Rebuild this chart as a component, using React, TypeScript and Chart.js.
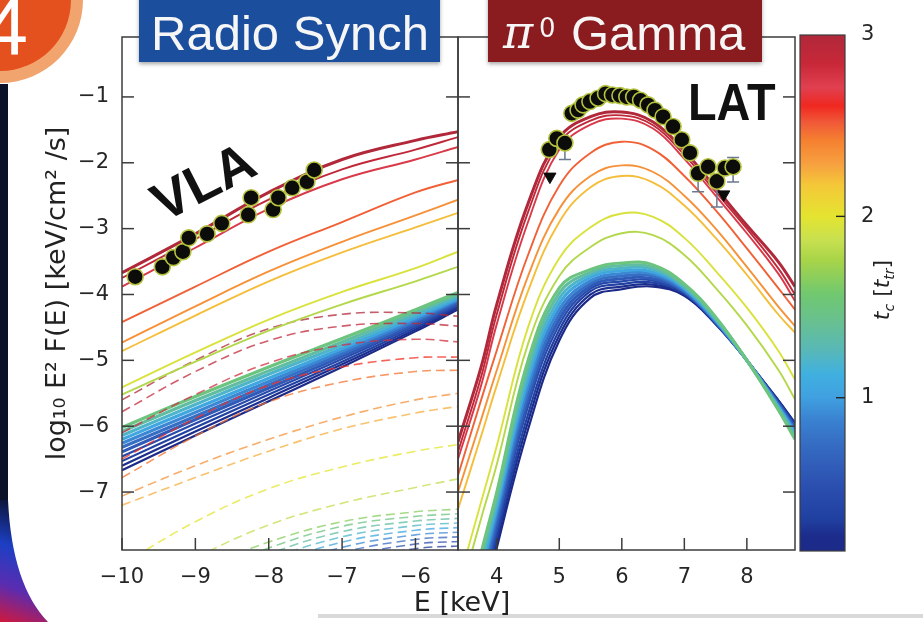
import React, { useEffect, useRef } from "react";
import { Chart, registerables } from "chart.js";

Chart.register(...registerables);
Chart.defaults.font.family = "'DejaVu Sans', sans-serif";

// ---------- axes ----------
const LOG_FLUX_MIN = -7.88;
const LOG_FLUX_MAX = -0.09;
const LOG_FLUX_TICKS = [-7, -6, -5, -4, -3, -2, -1];

const RADIO_E_MIN = -10;
const RADIO_E_MAX = -5.42;
const RADIO_E_TICKS = [-10, -9, -8, -7, -6];

const GAMMA_E_MIN = 3.38;
const GAMMA_E_MAX = 8.77;
const GAMMA_E_TICKS = [4, 5, 6, 7, 8];

const TC_MIN = 0.155;
const TC_MAX = 3;
const TC_TICKS = [1, 2, 3];

// colour scale for t_c [t_tr]
const TC_STOPS = [0.155, 0.24, 0.33, 0.52, 0.71, 0.87, 1.0, 1.13, 1.26, 1.42, 1.57, 1.76, 1.87, 2.0, 2.17, 2.29, 2.42, 2.52, 2.61, 2.71, 2.84, 3.0];
const TC_COLORS = ["#1c2a88", "#1c2c8c", "#2040a0", "#2c50b0", "#3468c0", "#3a80d0", "#40a0e0", "#40b0e0", "#58b8b8", "#68c090", "#70c870", "#a8d448", "#c8e050", "#e4e430", "#f4c838", "#f7a040", "#f58030", "#f05838", "#f02820", "#e04050", "#c82838", "#b0283a"];

// ---------- radio synchrotron panel ----------
const radioE = [-10, -9, -8, -7, -6, -5.42];

const radioSolidTc = [3.0, 2.9, 2.75, 2.5, 2.35, 2.2, 1.95, 1.8];
const radioSolid = [
  [-3.67, -3.08, -2.45, -1.95, -1.66, -1.53],
  [-3.75, -3.16, -2.56, -2.1, -1.8, -1.61],
  [-3.88, -3.29, -2.7, -2.25, -1.95, -1.76],
  [-4.42, -3.88, -3.35, -2.9, -2.45, -2.26],
  [-4.73, -4.18, -3.65, -3.2, -2.8, -2.56],
  [-4.86, -4.32, -3.8, -3.36, -2.98, -2.76],
  [-5.41, -4.88, -4.38, -3.96, -3.6, -3.35],
  [-5.52, -5.02, -4.55, -4.15, -3.8, -3.58],
];

const radioBandTc = [1.5, 1.35, 1.2, 1.05, 0.9, 0.75, 0.6, 0.45, 0.35, 0.25, 0.15];
const radioBand = [
  [-6.02, -5.55, -5.1, -4.67, -4.23, -3.97],
  [-6.08, -5.61, -5.16, -4.72, -4.27, -4.0],
  [-6.14, -5.67, -5.21, -4.77, -4.31, -4.03],
  [-6.2, -5.73, -5.27, -4.82, -4.35, -4.06],
  [-6.26, -5.79, -5.32, -4.86, -4.38, -4.08],
  [-6.32, -5.85, -5.37, -4.9, -4.41, -4.1],
  [-6.39, -5.9, -5.42, -4.94, -4.44, -4.13],
  [-6.46, -5.96, -5.47, -4.98, -4.47, -4.16],
  [-6.53, -6.02, -5.52, -5.02, -4.5, -4.18],
  [-6.6, -6.08, -5.57, -5.06, -4.53, -4.2],
  [-6.67, -6.14, -5.62, -5.1, -4.56, -4.23],
];

const radioDashedTc = [3.0, 2.9, 2.8, 2.6, 2.45, 2.35, 2.25, 2.0, 1.85, 1.65, 1.5, 1.35, 1.2, 1.05, 0.9, 0.7, 0.5, 0.3];
const radioDashed = [
  [-5.6, -5.0, -4.52, -4.3, -4.28, -4.33],
  [-5.78, -5.17, -4.7, -4.48, -4.44, -4.48],
  [-6.1, -5.52, -5.04, -4.77, -4.68, -4.72],
  [-6.5, -5.88, -5.38, -5.1, -4.96, -4.95],
  [-6.78, -6.15, -5.63, -5.33, -5.17, -5.15],
  [-7.06, -6.6, -6.2, -5.86, -5.6, -5.5],
  [-7.2, -6.78, -6.38, -6.04, -5.8, -5.7],
  [-8.1, -7.45, -6.95, -6.62, -6.38, -6.28],
  [-8.6, -8.0, -7.5, -7.17, -6.93, -6.8],
  [-8.7, -8.2, -7.76, -7.45, -7.3, -7.26],
  [-8.8, -8.3, -7.85, -7.52, -7.37, -7.33],
  [-8.9, -8.4, -7.94, -7.6, -7.44, -7.4],
  [-9.0, -8.5, -8.03, -7.68, -7.51, -7.47],
  [-9.1, -8.6, -8.12, -7.76, -7.58, -7.54],
  [-9.2, -8.7, -8.21, -7.84, -7.65, -7.61],
  [-9.3, -8.8, -8.3, -7.92, -7.72, -7.68],
  [-9.4, -8.9, -8.4, -8.0, -7.79, -7.75],
  [-9.5, -9.0, -8.5, -8.08, -7.86, -7.82],
];

// VLA measurements
const vlaE = [-9.82, -9.45, -9.3, -9.17, -9.09, -8.84, -8.64, -8.28, -8.24, -7.94, -7.87, -7.68, -7.48, -7.38];
const vlaF = [-3.73, -3.58, -3.44, -3.35, -3.14, -3.08, -2.92, -2.79, -2.53, -2.71, -2.53, -2.38, -2.29, -2.11];

// ---------- pi0 gamma-ray panel ----------
const gammaE = [3.38, 3.75, 4.0, 4.5, 5.0, 5.5, 6.0, 6.5, 7.0, 7.5, 8.0, 8.5, 8.77];

const gammaSolidTc = [3.0, 2.9, 2.75, 2.5, 2.35, 2.2, 1.95, 1.8];
const gammaSolid = [
  [-6.24, -5.1, -4.15, -2.62, -1.62, -1.3, -1.23, -1.38, -1.82, -2.38, -2.95, -3.5, -3.88],
  [-6.39, -5.25, -4.3, -2.75, -1.7, -1.36, -1.28, -1.43, -1.88, -2.44, -3.0, -3.6, -4.0],
  [-6.5, -5.38, -4.45, -2.9, -1.8, -1.42, -1.33, -1.48, -1.94, -2.5, -3.07, -3.68, -4.1],
  [-6.75, -5.6, -4.85, -3.4, -2.35, -1.85, -1.68, -1.8, -2.2, -2.72, -3.3, -3.9, -4.23],
  [-7.0, -5.9, -5.15, -3.72, -2.7, -2.2, -2.04, -2.14, -2.5, -3.0, -3.58, -4.18, -4.48],
  [-7.26, -6.15, -5.38, -3.95, -2.9, -2.37, -2.2, -2.3, -2.65, -3.14, -3.7, -4.3, -4.58],
  [-8.4, -7.15, -6.3, -4.5, -3.45, -2.98, -2.77, -2.82, -3.14, -3.64, -4.2, -4.85, -5.29],
  [-8.65, -7.4, -6.58, -4.75, -3.72, -3.28, -3.07, -3.1, -3.4, -3.9, -4.47, -5.14, -5.59],
];

const gammaBandTc = [1.5, 1.35, 1.2, 1.05, 0.9, 0.75, 0.6, 0.45, 0.35, 0.25, 0.15];
const gammaBand = [
  [-9.4, -7.92, -7.0, -5.0, -3.9, -3.62, -3.52, -3.55, -3.84, -4.34, -5.0, -5.75, -6.2],
  [-9.5, -8.0, -7.08, -5.1, -3.98, -3.66, -3.56, -3.59, -3.87, -4.36, -5.0, -5.73, -6.17],
  [-9.6, -8.1, -7.16, -5.2, -4.06, -3.7, -3.6, -3.62, -3.89, -4.37, -5.0, -5.71, -6.13],
  [-9.7, -8.2, -7.24, -5.3, -4.14, -3.74, -3.64, -3.66, -3.91, -4.39, -5.0, -5.7, -6.1],
  [-9.8, -8.3, -7.32, -5.4, -4.22, -3.79, -3.68, -3.69, -3.93, -4.4, -5.0, -5.68, -6.07],
  [-9.9, -8.4, -7.4, -5.5, -4.3, -3.83, -3.72, -3.72, -3.95, -4.41, -5.0, -5.67, -6.05],
  [-10.0, -8.5, -7.49, -5.6, -4.38, -3.87, -3.76, -3.76, -3.96, -4.42, -5.0, -5.65, -6.02],
  [-10.1, -8.6, -7.58, -5.7, -4.46, -3.91, -3.8, -3.79, -3.98, -4.43, -5.0, -5.64, -6.0],
  [-10.2, -8.7, -7.67, -5.82, -4.54, -3.95, -3.84, -3.82, -3.99, -4.44, -5.0, -5.62, -5.98],
  [-10.3, -8.8, -7.76, -5.93, -4.62, -4.0, -3.88, -3.85, -4.01, -4.44, -5.0, -5.61, -5.96],
  [-10.4, -8.9, -7.85, -6.05, -4.7, -4.05, -3.92, -3.88, -4.02, -4.45, -5.0, -5.6, -5.95],
];

// Fermi-LAT measurements, lower / upper error-bar ends (null: none drawn)
const latE = [4.84, 4.96, 5.09, 5.2, 5.3, 5.38, 5.49, 5.62, 5.74, 5.85, 5.97, 6.08, 6.19, 6.3, 6.42, 6.53, 6.66, 6.82, 6.96, 7.09, 7.22, 7.38, 7.52, 7.65, 7.78];
const latF = [-1.8, -1.63, -1.7, -1.25, -1.2, -1.12, -1.07, -1.02, -0.95, -0.97, -0.98, -1.0, -1.0, -1.05, -1.12, -1.2, -1.3, -1.45, -1.65, -1.85, -2.16, -2.06, -2.28, -2.08, -2.06];
const latLo = [null, null, -1.95, null, null, null, null, null, null, null, null, null, null, null, null, null, null, null, null, null, -2.44, null, -2.67, null, -2.29];
const latHi = [null, null, null, null, null, null, null, null, null, null, null, null, null, null, null, null, null, null, null, null, null, null, null, null, -1.92];

// LAT upper limits
const ulE = [4.85, 7.63];
const ulF = [-2.21, -2.48];

// ---------- helpers ----------
function hexRgb(h: string) {
  const n = parseInt(h.slice(1), 16);
  return [(n >> 16) & 255, (n >> 8) & 255, n & 255];
}
function tcColor(t: number, alpha = 1) {
  let i = 0;
  while (i < TC_STOPS.length - 2 && t > TC_STOPS[i + 1]) i++;
  const f = Math.min(1, Math.max(0, (t - TC_STOPS[i]) / (TC_STOPS[i + 1] - TC_STOPS[i])));
  const a = hexRgb(TC_COLORS[i]);
  const b = hexRgb(TC_COLORS[i + 1]);
  const c = a.map((v, k) => Math.round(v + (b[k] - v) * f));
  return `rgba(${c[0]},${c[1]},${c[2]},${alpha})`;
}
const minus = (v: number) => String(v).replace("-", "\u2212");
const pts = (xs: number[], ys: (number | null)[]) => xs.map((x, i) => ({ x, y: ys[i] as number }));

function curve(label: string, xs: number[], ys: number[], axis: string, color: string, width: number, dash: number[] = []) {
  return {
    type: "line" as const,
    label,
    xAxisID: axis,
    yAxisID: "y",
    data: pts(xs, ys),
    borderColor: color,
    borderWidth: width,
    borderDash: dash,
    pointRadius: 0,
    pointHoverRadius: 0,
    tension: 0.4,
    fill: false,
    order: 1,
  };
}

function buildDatasets() {
  const sets: any[] = [];
  sets.push({
    type: "line", label: "VLA", xAxisID: "xL", yAxisID: "y", data: pts(vlaE, vlaF), showLine: false,
    pointRadius: 8, pointBackgroundColor: "#0c0c0a", pointBorderColor: "#b4c23e", pointBorderWidth: 1.6, order: 0,
  });
  sets.push({
    type: "line", label: "LAT", xAxisID: "xR", yAxisID: "y", data: pts(latE, latF), showLine: false,
    pointRadius: 8, pointBackgroundColor: "#0c0c0a", pointBorderColor: "#b4c23e", pointBorderWidth: 1.6, order: 0,
  });
  sets.push({
    type: "line", label: "LAT UL", xAxisID: "xR", yAxisID: "y", data: pts(ulE, ulF), showLine: false,
    pointStyle: "triangle", rotation: 180, pointRadius: 7, pointBackgroundColor: "#0c0c0c", pointBorderColor: "#0c0c0c", order: 0,
  });
  radioSolid.forEach((ys, i) => sets.push(curve(`synch t=${radioSolidTc[i]}`, radioE, ys, "xL", tcColor(radioSolidTc[i]), i === 0 ? 3 : 1.9)));
  gammaSolid.forEach((ys, i) => sets.push(curve(`pi0 t=${gammaSolidTc[i]}`, gammaE, ys, "xR", tcColor(gammaSolidTc[i]), i === 0 ? 3 : 1.9)));
  radioDashed.forEach((ys, i) => sets.push(curve(`secondary t=${radioDashedTc[i]}`, radioE, ys, "xL", tcColor(radioDashedTc[i], 0.75), 1.6, [9, 5])));
  radioBand.forEach((ys, i) => sets.push(curve(`synch t=${radioBandTc[i]}`, radioE, ys, "xL", tcColor(radioBandTc[i]), i < 7 ? 3.2 : 2.2)));
  gammaBand.forEach((ys, i) => sets.push(curve(`pi0 t=${gammaBandTc[i]}`, gammaE, ys, "xR", tcColor(gammaBandTc[i]), i < 7 ? 3 : 2.2)));
  return sets;
}

// ---------- plugins ----------
const decorPlugin = {
  id: "slideDecor",
  beforeDraw(chart: any) {
    const { ctx } = chart;
    ctx.save();
    // numbered badge
    ctx.beginPath();
    ctx.arc(0, 0, 83, 0, Math.PI * 2);
    ctx.fillStyle = "#f2a46e";
    ctx.fill();
    ctx.beginPath();
    ctx.arc(0, 0, 71, 0, Math.PI * 2);
    ctx.fillStyle = "#e4511f";
    ctx.fill();
    ctx.fillStyle = "#ffffff";
    ctx.font = "80px 'Liberation Sans'";
    ctx.textAlign = "right";
    ctx.textBaseline = "alphabetic";
    ctx.fillText("4", 28, 54);
    // dark edge strip and corner sweep
    ctx.fillStyle = "#0b1126";
    ctx.fillRect(0, 84, 8, 440);
    const g = ctx.createLinearGradient(40, 515, 0, 622);
    g.addColorStop(0, "#0d1640");
    g.addColorStop(0.35, "#1d3fc4");
    g.addColorStop(0.68, "#5a2cb0");
    g.addColorStop(1, "#d0183c");
    ctx.beginPath();
    ctx.moveTo(0, 500);
    ctx.lineTo(8, 500);
    ctx.quadraticCurveTo(12, 585, 48, 622);
    ctx.lineTo(0, 622);
    ctx.closePath();
    ctx.fillStyle = g;
    ctx.fill();
    // bottom edge shadow
    ctx.fillStyle = "#d9d9d9";
    ctx.fillRect(318, 614, 605, 4);
    ctx.restore();
  },
};

const errorBarPlugin = {
  id: "latErrorBars",
  beforeDatasetDraw(chart: any, args: any) {
    if (chart.data.datasets[args.index].label !== "LAT") return;
    const { ctx } = chart;
    const x = chart.scales.xR;
    const y = chart.scales.y;
    ctx.save();
    ctx.strokeStyle = "#6a7890";
    ctx.lineWidth = 1.5;
    latE.forEach((e, i) => {
      const px = x.getPixelForValue(e);
      const py = y.getPixelForValue(latF[i]);
      [latLo[i], latHi[i]].forEach((end) => {
        if (end === null) return;
        const pe = y.getPixelForValue(end as number);
        ctx.beginPath();
        ctx.moveTo(px, py);
        ctx.lineTo(px, pe);
        ctx.moveTo(px - 6, pe);
        ctx.lineTo(px + 6, pe);
        ctx.stroke();
      });
    });
    ctx.restore();
  },
};

const framePlugin = {
  id: "panelFrames",
  afterDatasetsDraw(chart: any) {
    const { ctx } = chart;
    const y = chart.scales.y;
    const xl = chart.scales.xL;
    const xr = chart.scales.xR;
    const T = 12;
    const seg = (a: number, b: number, c: number, d: number) => {
      ctx.beginPath();
      ctx.moveTo(a, b);
      ctx.lineTo(c, d);
      ctx.stroke();
    };
    ctx.save();
    ctx.strokeStyle = "#3c3c3c";
    ctx.lineWidth = 1.5;
    ctx.strokeRect(xl.left, y.top, xl.right - xl.left, y.bottom - y.top);
    ctx.strokeRect(xr.left, y.top, xr.right - xr.left, y.bottom - y.top);
    for (const v of LOG_FLUX_TICKS) {
      const py = y.getPixelForValue(v);
      seg(xl.left, py, xl.left + T, py);
      seg(xl.right - T, py, xl.right, py);
      seg(xr.left, py, xr.left + T, py);
      seg(xr.right - T, py, xr.right, py);
    }
    for (const v of RADIO_E_TICKS) {
      const px = xl.getPixelForValue(v);
      seg(px, y.bottom, px, y.bottom - T);
    }
    for (const v of GAMMA_E_TICKS) {
      const px = xr.getPixelForValue(v);
      seg(px, y.bottom, px, y.bottom - T);
    }
    ctx.restore();
  },
};

const labelPlugin = {
  id: "panelLabels",
  afterDraw(chart: any) {
    const { ctx } = chart;
    ctx.save();
    // panel title boxes
    ctx.shadowColor = "rgba(0,0,0,0.35)";
    ctx.shadowBlur = 4;
    ctx.shadowOffsetY = 2;
    ctx.fillStyle = "#1b4f9e";
    ctx.fillRect(139, -6, 301, 68);
    ctx.fillStyle = "#8a1b1e";
    ctx.fillRect(488, -6, 274, 68);
    ctx.shadowColor = "transparent";
    ctx.shadowBlur = 0;
    ctx.shadowOffsetY = 0;
    ctx.fillStyle = "#f6f6f6";
    ctx.textBaseline = "alphabetic";
    ctx.textAlign = "center";
    ctx.font = "49px 'Liberation Sans'";
    ctx.fillText("Radio Synch", 290, 50);
    ctx.textAlign = "left";
    ctx.font = "italic 46px 'DejaVu Serif'";
    ctx.fillText("\u03c0", 503, 48);
    ctx.font = "26px 'DejaVu Sans'";
    ctx.fillText("0", 539, 37);
    ctx.font = "49px 'Liberation Sans'";
    ctx.fillText("Gamma", 571, 50);

    // instrument labels
    ctx.fillStyle = "#111";
    ctx.save();
    ctx.translate(203, 181);
    ctx.rotate((-27 * Math.PI) / 180);
    ctx.font = "bold 54px 'Liberation Sans'";
    ctx.textAlign = "center";
    ctx.fillText("VLA", 0, 19);
    ctx.restore();
    ctx.save();
    ctx.translate(688, 120);
    ctx.scale(0.9, 1);
    ctx.font = "bold 52px 'Liberation Sans'";
    ctx.fillText("LAT", 0, 0);
    ctx.restore();

    // shared energy axis title
    ctx.fillStyle = "#222";
    ctx.textAlign = "center";
    ctx.font = "27px 'DejaVu Sans'";
    ctx.fillText("E [keV]", 462, 611);
    ctx.restore();
  },
};

const colorbarPlugin = {
  id: "colorbarFrame",
  afterDatasetsDraw(chart: any) {
    const { ctx, chartArea: a } = chart;
    const y = chart.scales.y;
    ctx.save();
    ctx.strokeStyle = "#3c3c3c";
    ctx.lineWidth = 1.2;
    ctx.strokeRect(a.left, a.top, a.right - a.left, a.bottom - a.top);
    ctx.strokeStyle = "#222";
    ctx.lineWidth = 1.4;
    for (const t of TC_TICKS) {
      if (t >= TC_MAX) continue;
      const py = y.getPixelForValue(t);
      ctx.beginPath();
      ctx.moveTo(a.right - 9, py);
      ctx.lineTo(a.right, py);
      ctx.stroke();
    }
    // axis label: t_c [t_tr]
    const runs = [
      { text: "t", size: 22, dy: 0, italic: true },
      { text: "c", size: 14, dy: 5, italic: true },
      { text: " [", size: 22, dy: 0, italic: false },
      { text: "t", size: 22, dy: 0, italic: true },
      { text: "tr", size: 14, dy: 5, italic: true },
      { text: "]", size: 22, dy: 0, italic: false },
    ];
    const fontOf = (r: any) => `${r.italic ? "italic " : ""}${r.size}px 'DejaVu Sans'`;
    let total = 0;
    runs.forEach((r) => {
      ctx.font = fontOf(r);
      total += ctx.measureText(r.text).width;
    });
    ctx.translate(86, 290);
    ctx.rotate(-Math.PI / 2);
    ctx.fillStyle = "#222";
    ctx.textBaseline = "alphabetic";
    ctx.textAlign = "left";
    let cx = -total / 2;
    runs.forEach((r) => {
      ctx.font = fontOf(r);
      ctx.fillText(r.text, cx, 8 + r.dy);
      cx += ctx.measureText(r.text).width;
    });
    ctx.restore();
  },
};

// ---------- component ----------
export default function App() {
  const mainRef = useRef<HTMLCanvasElement>(null);
  const barRef = useRef<HTMLCanvasElement>(null);

  useEffect(() => {
    const tickFont = { size: 21, family: "'DejaVu Sans'" };
    const main = new Chart(mainRef.current as HTMLCanvasElement, {
      type: "line",
      data: { datasets: buildDatasets() },
      options: {
        animation: false,
        responsive: false,
        events: [],
        layout: { padding: { top: 37, right: 128, bottom: 0, left: 0 } },
        plugins: { legend: { display: false }, tooltip: { enabled: false } },
        scales: {
          xL: {
            type: "linear", axis: "x", position: "bottom", stack: "energy", stackWeight: 336,
            min: RADIO_E_MIN, max: RADIO_E_MAX,
            grid: { display: false }, border: { display: false },
            afterBuildTicks: (s: any) => { s.ticks = RADIO_E_TICKS.map((v) => ({ value: v })); },
            afterFit: (s: any) => { s.height = 72; },
            ticks: { font: tickFont, color: "#262626", padding: 7, maxRotation: 0, autoSkip: false, callback: (v: any) => minus(v) },
          },
          xR: {
            type: "linear", axis: "x", position: "bottom", stack: "energy", stackWeight: 337,
            min: GAMMA_E_MIN, max: GAMMA_E_MAX,
            grid: { display: false }, border: { display: false },
            afterBuildTicks: (s: any) => { s.ticks = GAMMA_E_TICKS.map((v) => ({ value: v })); },
            afterFit: (s: any) => { s.height = 72; },
            ticks: { font: tickFont, color: "#262626", padding: 7, maxRotation: 0, autoSkip: false, callback: (v: any) => minus(v) },
          },
          y: {
            type: "linear", position: "left", min: LOG_FLUX_MIN, max: LOG_FLUX_MAX,
            grid: { display: false }, border: { display: false },
            afterBuildTicks: (s: any) => { s.ticks = LOG_FLUX_TICKS.map((v) => ({ value: v })); },
            afterFit: (s: any) => { s.width = 122; },
            ticks: { font: tickFont, color: "#262626", padding: 5, callback: (v: any) => minus(v) },
            title: {
              display: true,
              text: "log\u2081\u2080 E\u00b2 F(E) [keV/cm\u00b2 /s]",
              font: { size: 27, family: "'DejaVu Sans'" },
              color: "#222",
              padding: { top: 42, bottom: 0 },
            },
          },
        },
      } as any,
      plugins: [decorPlugin, errorBarPlugin, framePlugin, labelPlugin],
    });

    const bar = new Chart(barRef.current as HTMLCanvasElement, {
      type: "bar",
      data: {
        labels: [""],
        datasets: [
          {
            data: [[TC_MIN, TC_MAX]] as any,
            borderWidth: 0,
            barPercentage: 1,
            categoryPercentage: 1,
            backgroundColor: (c: any) => {
              const { chart } = c;
              if (!chart.chartArea) return TC_COLORS[0];
              const y = chart.scales.y;
              const g = chart.ctx.createLinearGradient(0, y.getPixelForValue(TC_MIN), 0, y.getPixelForValue(TC_MAX));
              TC_STOPS.forEach((t, i) => g.addColorStop((t - TC_MIN) / (TC_MAX - TC_MIN), TC_COLORS[i]));
              return g;
            },
          },
        ],
      },
      options: {
        animation: false,
        responsive: false,
        events: [],
        layout: { padding: { top: 35, right: 0, bottom: 71, left: 5 } },
        plugins: { legend: { display: false }, tooltip: { enabled: false } },
        scales: {
          x: { display: false },
          y: {
            position: "right", min: TC_MIN, max: TC_MAX,
            grid: { display: false }, border: { display: false },
            afterBuildTicks: (s: any) => { s.ticks = TC_TICKS.map((v) => ({ value: v })); },
            afterFit: (s: any) => { s.width = 78; },
            ticks: { font: tickFont, color: "#262626", padding: 8 },
          },
        },
      } as any,
      plugins: [colorbarPlugin],
    });

    return () => {
      main.destroy();
      bar.destroy();
    };
  }, []);

  return (
    <div style={{ position: "fixed", left: 0, top: 0, width: 923, height: 622, background: "#ffffff", overflow: "hidden" }}>
      <canvas ref={mainRef} width={923} height={622} style={{ position: "absolute", left: 0, top: 0 }} />
      <canvas ref={barRef} width={128} height={622} style={{ position: "absolute", left: 795, top: 0 }} />
    </div>
  );
}
